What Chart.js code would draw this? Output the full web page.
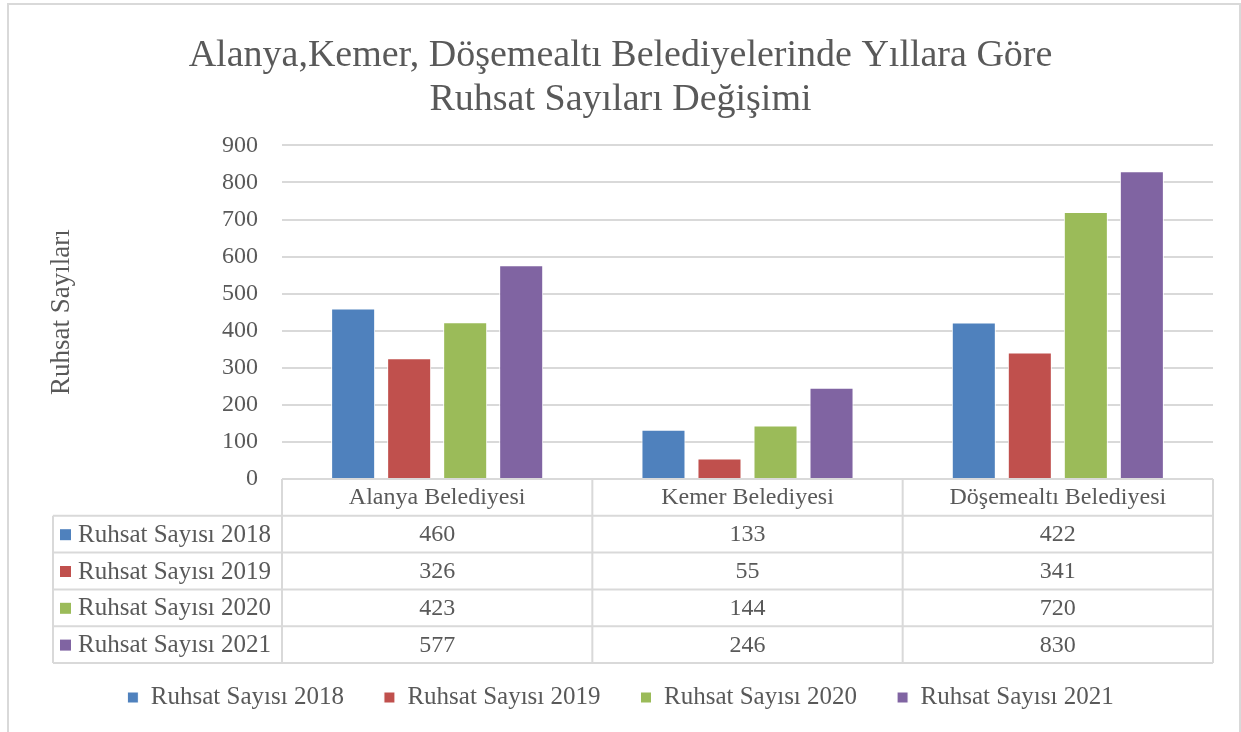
<!DOCTYPE html>
<html>
<head>
<meta charset="utf-8">
<script src="https://cdn.jsdelivr.net/npm/chart.js@4"></script>
<style>
  html, body { margin: 0; padding: 0; background: #fff; }
  #wrap { width: 1241px; height: 732px; position: relative; }
</style>
</head>
<body>
<div id="wrap"><canvas id="ruhsat-chart" width="1241" height="732"></canvas></div>
<script>
var categories = ["Alanya Belediyesi", "Kemer Belediyesi", "Döşemealtı Belediyesi"];
var seriesNames = ["Ruhsat Sayısı 2018", "Ruhsat Sayısı 2019", "Ruhsat Sayısı 2020", "Ruhsat Sayısı 2021"];
var ruhsat2018 = [460, 133, 422];
var ruhsat2019 = [326, 55, 341];
var ruhsat2020 = [423, 144, 720];
var ruhsat2021 = [577, 246, 830];
var colors = ["#4F81BD", "#C0504D", "#9BBB59", "#8064A2"];

var FONT = "'Liberation Serif', 'DejaVu Serif', serif";
var TEXT = "#595959";
var LINE = "#d9d9d9";

// frame + data table under the plot
var tablePlugin = {
    id: 'dataTable',
    beforeDraw: function(chart) {
        var ctx = chart.ctx;
        ctx.save();
        ctx.fillStyle = "#fff";
        ctx.fillRect(0, 0, chart.width, chart.height);
        ctx.strokeStyle = LINE;
        ctx.lineWidth = 2;
        ctx.beginPath();
        ctx.moveTo(8, 740); ctx.lineTo(8, 4); ctx.lineTo(1240, 4); ctx.lineTo(1240, 740);
        ctx.stroke();
        ctx.restore();
    },
    afterDraw: function(chart) {
        var ctx = chart.ctx;
        var x = chart.scales.x;
        var area = chart.chartArea;
        var top = area.bottom;
        var rowH = 36.8;
        var leftX = 53;
        var half = (x.getPixelForValue(1) - x.getPixelForValue(0)) / 2;
        var colL = x.getPixelForValue(0) - half;
        var colR = x.getPixelForValue(categories.length - 1) + half;
        var bottom = top + rowH * (seriesNames.length + 1);
        var data = [ruhsat2018, ruhsat2019, ruhsat2020, ruhsat2021];

        ctx.save();
        ctx.strokeStyle = LINE;
        ctx.lineWidth = 2;
        ctx.beginPath();
        ctx.moveTo(colL, top); ctx.lineTo(colR, top);
        for (var r = 1; r <= seriesNames.length + 1; r++) {
            ctx.moveTo(leftX, top + rowH * r); ctx.lineTo(colR, top + rowH * r);
        }
        ctx.moveTo(leftX, top + rowH); ctx.lineTo(leftX, bottom);
        for (var c = 0; c <= categories.length; c++) {
            var cx = colL + half * 2 * c;
            ctx.moveTo(cx, top); ctx.lineTo(cx, bottom);
        }
        ctx.stroke();

        ctx.fillStyle = TEXT;
        ctx.textBaseline = 'middle';
        ctx.textAlign = 'center';
        ctx.font = "24px " + FONT;
        categories.forEach(function(cat, i) {
            ctx.fillText(cat, x.getPixelForValue(i), top + rowH / 2);
        });
        seriesNames.forEach(function(name, s) {
            var cy = top + rowH * (s + 1.5);
            ctx.fillStyle = colors[s];
            ctx.fillRect(60, cy - 5, 11, 11);
            ctx.fillStyle = TEXT;
            ctx.textAlign = 'left';
            ctx.font = "25px " + FONT;
            ctx.fillText(name, 78, cy + 1);
            ctx.textAlign = 'center';
            ctx.font = "24px " + FONT;
            data[s].forEach(function(v, i) {
                ctx.fillText(String(v), x.getPixelForValue(i), cy + 1);
            });
        });
        ctx.restore();
    }
};

var datasets = [ruhsat2018, ruhsat2019, ruhsat2020, ruhsat2021].map(function(vals, i) {
    return {
        label: seriesNames[i],
        data: vals,
        backgroundColor: colors[i],
        borderColor: "#ffffff",
        borderWidth: 1,
        categoryPercentage: 0.722,
        barPercentage: 0.786
    };
});

new Chart(document.getElementById("ruhsat-chart"), {
    type: 'bar',
    data: {
        labels: categories,
        datasets: datasets
    },
    options: {
        responsive: false,
        animation: false,
        devicePixelRatio: 1,
        layout: { padding: { left: 28, right: 28, top: 34, bottom: 12 } },
        plugins: {
            title: {
                display: true,
                text: ["Alanya,Kemer, Döşemealtı Belediyelerinde Yıllara Göre", "Ruhsat Sayıları Değişimi"],
                color: TEXT,
                font: { family: FONT, size: 38, weight: 'normal', lineHeight: 1.15 },
                padding: { top: 0, bottom: 24 }
            },
            legend: {
                position: 'bottom',
                labels: {
                    color: TEXT,
                    font: { family: FONT, size: 25 },
                    boxWidth: 11,
                    boxHeight: 11,
                    padding: 40
                }
            },
            tooltip: { enabled: false }
        },
        scales: {
            x: {
                grid: { display: false },
                border: { display: false },
                ticks: { display: false },
                afterFit: function(scale) { scale.height = 166; }
            },
            y: {
                min: 0,
                max: 900,
                ticks: {
                    stepSize: 100,
                    color: TEXT,
                    padding: 24,
                    font: { family: FONT, size: 24 }
                },
                grid: { color: LINE, lineWidth: 2, drawTicks: false },
                border: { display: false },
                title: {
                    display: true,
                    text: "Ruhsat Sayıları",
                    color: TEXT,
                    font: { family: FONT, size: 27 },
                    padding: { top: 18, bottom: 0 }
                },
                afterFit: function(scale) { scale.width = 254; }
            }
        }
    },
    plugins: [tablePlugin]
});
</script>
</body>
</html>
